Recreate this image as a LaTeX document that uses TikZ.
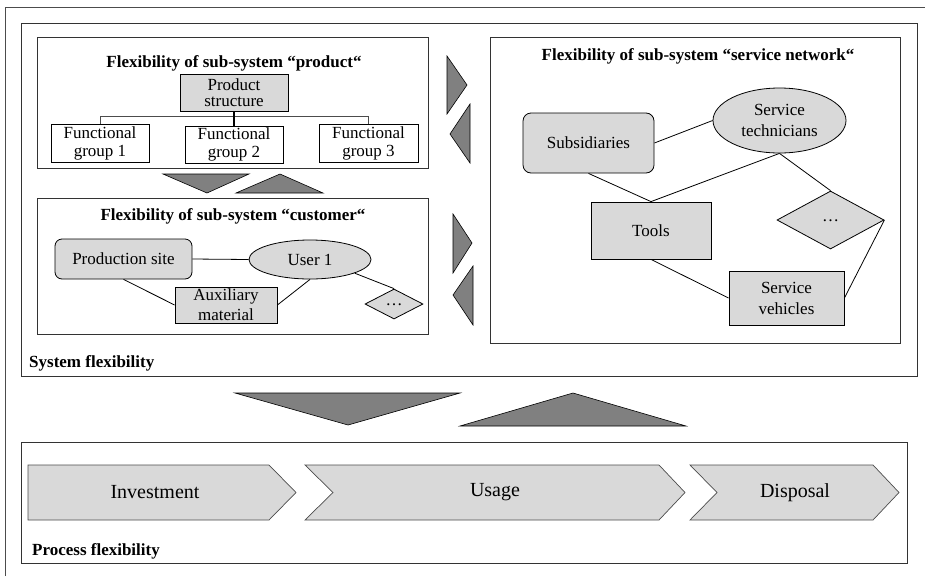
\documentclass[tikz,border=0pt]{standalone}
\usepackage{fontspec}
\setmainfont{Liberation Serif}
\usetikzlibrary{shapes.geometric}
\definecolor{boxgray}{HTML}{D9D9D9}
\definecolor{trigray}{HTML}{808080}
\begin{document}
\begin{tikzpicture}[x=1pt,y=-1pt,
  frame/.style={draw=black!80, line width=0.9pt},
  nodefont/.style={font=\fontsize{17}{17}\selectfont},
  graybox/.style={draw=black, line width=0.8pt, fill=boxgray, inner sep=0pt, align=center, nodefont},
  whitebox/.style={draw=black, line width=0.8pt, fill=white, inner sep=0pt, align=center, nodefont},
  roundbox/.style={graybox, rounded corners=7pt},
  ellbox/.style={graybox, ellipse},
  diabox/.style={graybox, diamond},
  link/.style={draw=black, line width=0.8pt},
  tri/.style={draw=black, line width=0.6pt, fill=trigray},
  title/.style={font=\fontsize{17}{17}\selectfont\bfseries, anchor=base, inner sep=0pt},
  label/.style={font=\fontsize{17}{17}\selectfont\bfseries, anchor=base west, inner sep=0pt},
  chev/.style={draw=black!70, line width=0.7pt, fill=boxgray},
  chevtext/.style={font=\fontsize{20}{20}\selectfont, inner sep=0pt}
]
\useasboundingbox (0,0) rectangle (925,576);

% outer frame (only left and top edges visible)
\draw[draw=black!70, line width=0.9pt] (5,576) -- (5,7) -- (925,7);

% containers
\draw[frame] (21,23) rectangle (917,376);
\draw[frame] (37,37) rectangle (428,168);
\draw[frame] (37,198) rectangle (428,334);
\draw[frame] (490,37) rectangle (900,343);
\draw[frame] (21,442) rectangle (907,563);

% titles and labels
\node[title] (tprod) at (234,67) {Flexibility of sub-system “product“};
\node[title] (tcust) at (233,220) {Flexibility of sub-system “customer“};
\node[title] (tserv) at (698,60) {Flexibility of sub-system “service network“};
\node[label] (lsys) at (29,367) {System flexibility};
\node[label] (lproc) at (32,555) {Process flexibility};

% triangles
\draw[tri] (163,174) -- (249,174) -- (207,193) -- cycle;
\draw[tri] (236,193) -- (323,193) -- (280,174) -- cycle;
\draw[tri] (447,56) -- (467,85) -- (447,114) -- cycle;
\draw[tri] (470,104) -- (450,134) -- (470,163) -- cycle;
\draw[tri] (453,214) -- (472,243) -- (453,273) -- cycle;
\draw[tri] (473,266) -- (453,295) -- (473,325) -- cycle;
\draw[tri] (235,393) -- (460,393) -- (348,425) -- cycle;
\draw[tri] (460,426) -- (686,426) -- (573,393) -- cycle;

% product sub-system
\node[graybox, minimum width=108pt, minimum height=37pt, font=\fontsize{17}{16}\selectfont] (pstruct) at (234,92.5) {Product\\structure};
\node[whitebox, minimum width=98pt, minimum height=38pt, font=\fontsize{17}{18}\selectfont] (fg1) at (100,143) {Functional\\group 1};
\node[whitebox, minimum width=98pt, minimum height=37pt, font=\fontsize{17}{18}\selectfont] (fg2) at (234,144.5) {Functional\\group 2};
\node[whitebox, minimum width=99pt, minimum height=38pt, font=\fontsize{17}{18}\selectfont] (fg3) at (368.5,143) {Functional\\group 3};
\draw[draw=black!70, line width=0.6pt] (fg1.north) -- ++(0,-7) -| (fg3.north);
\draw[line width=1.6pt] (pstruct.south) -- (fg2.north);

% customer sub-system
\node[roundbox, minimum width=137pt, minimum height=40pt] (ps) at (123.5,259) {Production site};
\node[ellbox, minimum width=122pt, minimum height=39pt] (user) at (310,259.5) {User 1};
\node[graybox, minimum width=102pt, minimum height=36pt, font=\fontsize{17}{20}\selectfont] (aux) at (226,305) {Auxiliary\\material};
\node[diabox, minimum width=58pt, minimum height=30pt] (cdots) at (394,304) {\raisebox{-3pt}{…}};
\draw[link] (ps.east) -- (user.west);
\draw[link] (ps.south) -- (aux.west);
\draw[link] (aux.east) -- (user.south);
\draw[link] (user.-17) -- (cdots.north);

% service network sub-system
\node[roundbox, rounded corners=8pt, minimum width=131pt, minimum height=60pt] (subs) at (588.5,143) {Subsidiaries};
\node[ellbox, minimum width=133pt, minimum height=65pt, font=\fontsize{17}{21}\selectfont] (tech) at (779.5,120.5) {Service\\technicians};
\node[graybox, minimum width=120pt, minimum height=57pt] (tools) at (651,230.5) {Tools};
\node[diabox, minimum width=107pt, minimum height=58pt] (sdots) at (830.5,220) {\raisebox{-3pt}{…}};
\node[graybox, minimum width=115pt, minimum height=54pt, font=\fontsize{17}{21}\selectfont] (sv) at (786.5,298) {Service\\vehicles};
\draw[link] (subs.south) -- (tools.north);
\draw[link] (subs.east) -- (tech.west);
\draw[link] (tech.south) -- (tools.north);
\draw[link] (tech.south) -- (sdots.north);
\draw[link] (tools.south) -- (sv.west);
\draw[link] (sdots.east) -- (sv.east);

% process chevrons
\draw[chev] (28,465) -- (269,465) -- (296,492.5) -- (269,520) -- (28,520) -- cycle;
\draw[chev] (305,465) -- (659,465) -- (685,492.5) -- (659,520) -- (305,520) -- (333,492.5) -- cycle;
\draw[chev] (690,465) -- (873,465) -- (899,492.5) -- (873,520) -- (690,520) -- (717,492.5) -- cycle;
\node[chevtext] (inv) at (155,492.5) {Investment};
\node[chevtext] (use) at (495,492.5) {Usage};
\node[chevtext] (disp) at (795,492.5) {Disposal};
\end{tikzpicture}
\end{document}
